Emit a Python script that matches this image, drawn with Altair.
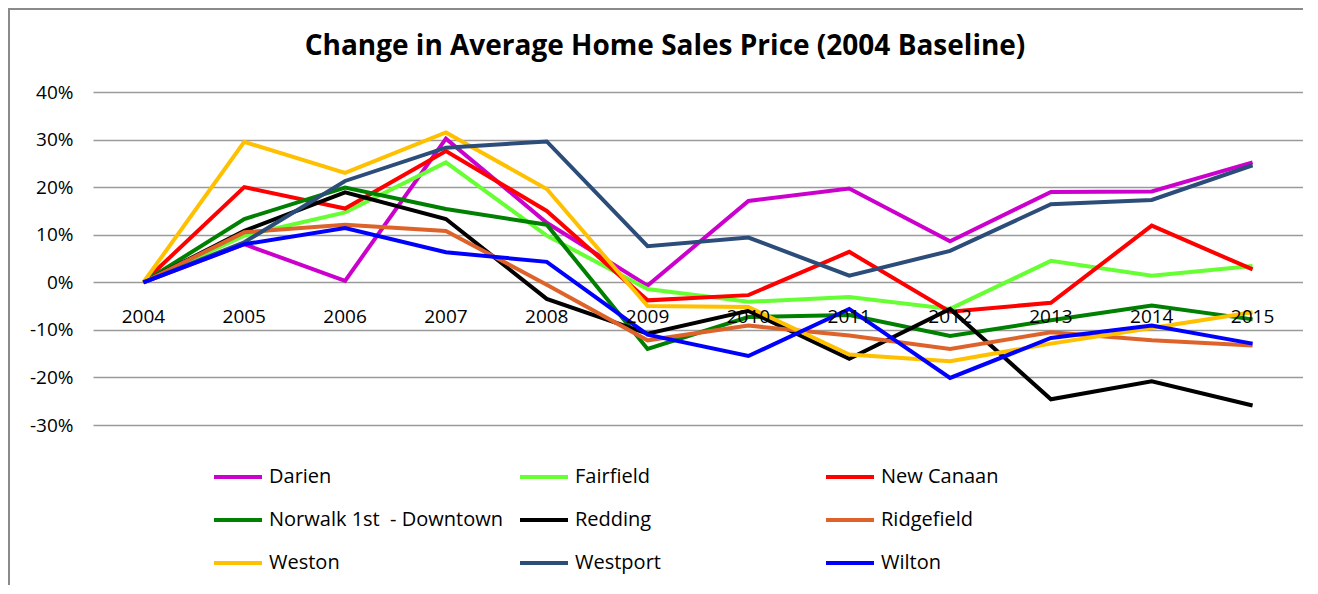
import altair as alt
import pandas as pd

years = [2004, 2005, 2006, 2007, 2008, 2009, 2010, 2011, 2012, 2013, 2014, 2015]

series_names = [
    "Darien", "Fairfield", "New Canaan",
    "Norwalk 1st\u00a0 - Downtown", "Redding", "Ridgefield",
    "Weston", "Westport", "Wilton",
]
series_colors = [
    "#CC00CC", "#66FF33", "#FF0000",
    "#008000", "#000000", "#DE632B",
    "#FFC000", "#2C4D7A", "#0000FF",
]

darien = [0, 8.0, 0.3, 30.2, 12.5, -0.7, 17.1, 19.7, 8.6, 19.0, 19.1, 25.2]
fairfield = [0, 9.8, 14.7, 25.2, 9.8, -1.4, -4.1, -3.1, -5.6, 4.5, 1.4, 3.4]
new_canaan = [0, 20.0, 15.5, 27.6, 15.0, -3.8, -2.7, 6.4, -6.2, -4.3, 11.9, 2.7]
norwalk = [0, 13.3, 19.9, 15.4, 12.1, -14.0, -7.3, -6.9, -11.3, -8.0, -4.9, -7.8]
redding = [0, 10.8, 18.9, 13.3, -3.5, -10.8, -6.0, -16.1, -5.6, -24.6, -20.8, -25.9]
ridgefield = [0, 10.5, 12.1, 10.8, -0.5, -12.2, -9.1, -11.2, -14.0, -10.5, -12.2, -13.3]
weston = [0, 29.5, 23.0, 31.5, 19.6, -5.0, -5.2, -15.2, -16.6, -12.9, -9.6, -6.3]
westport = [0, 8.4, 21.3, 28.3, 29.6, 7.6, 9.4, 1.4, 6.6, 16.4, 17.3, 24.6]
wilton = [0, 8.0, 11.4, 6.3, 4.3, -11.0, -15.5, -5.6, -20.1, -11.7, -9.1, -12.9]

y_ticks = [-30, -20, -10, 0, 10, 20, 30, 40]

all_series = [darien, fairfield, new_canaan, norwalk, redding, ridgefield,
              weston, westport, wilton]

rows = []
for name, vals in zip(series_names, all_series):
    for yr, v in zip(years, vals):
        rows.append({"year": yr, "series": name, "value": v})
df = pd.DataFrame(rows)
labels_df = pd.DataFrame({"year": years})

FONT = "Open Sans"

x_enc = alt.X("year:O", scale=alt.Scale(type="point", padding=0.5), axis=None)

lines = alt.Chart(df).mark_line(strokeWidth=4).encode(
    x=x_enc,
    y=alt.Y(
        "value:Q",
        scale=alt.Scale(domain=[-30, 40], nice=False, zero=False),
        axis=alt.Axis(
            values=y_ticks,
            labelExpr="datum.value + '%'",
            grid=True,
            gridColor="#9a9a9a",
            gridWidth=1.5,
            domain=False,
            ticks=False,
            labelPadding=20,
            labelFontSize=19,
            labelFont=FONT,
            labelColor="#000000",
            title=None,
        ),
    ),
    color=alt.Color(
        "series:N",
        scale=alt.Scale(domain=series_names, range=series_colors),
        sort=series_names,
        legend=alt.Legend(
            orient="none",
            direction="horizontal",
            legendX=119,
            legendY=359,
            columns=3,
            gridAlign="all",
            columnPadding=9,
            rowPadding=7,
            padding=0,
            title=None,
            symbolType="stroke",
            symbolSize=2304,
            symbolStrokeWidth=4,
            labelOffset=5,
            labelFontSize=20,
            labelFont=FONT,
            labelColor="#000000",
            labelLimit=400,
        ),
    ),
)

year_labels = alt.Chart(labels_df).mark_text(
    dy=35, fontSize=19, font=FONT, color="#000000", baseline="middle"
).encode(
    x=x_enc,
    y=alt.datum(0),
    text=alt.Text("year:O"),
)

frame_left = alt.Chart(labels_df).mark_rule(color="#8a8a8a", strokeWidth=2).encode(
    x=alt.value(-84), y=alt.value(-84), y2=alt.value(600)
)
frame_top = alt.Chart(labels_df).mark_rule(color="#8a8a8a", strokeWidth=2).encode(
    x=alt.value(-84), x2=alt.value(1240), y=alt.value(-83)
)

chart = alt.layer(frame_left, frame_top, lines, year_labels).properties(
    width=1210,
    height=333,
    autosize=alt.AutoSizeParams(type="none"),
    padding={"left": 85, "top": 84, "right": 0, "bottom": 160},
    title=alt.TitleParams(
        "Change in Average Home Sales Price (2004 Baseline)",
        font=FONT,
        fontSize=28,
        fontWeight="bold",
        color="#000000",
        anchor="middle",
        frame="group",
        dx=-33,
        offset=-54,
    ),
).configure_view(stroke=None)

chart.save("out.html", embed_options={"renderer": "svg", "actions": False})
